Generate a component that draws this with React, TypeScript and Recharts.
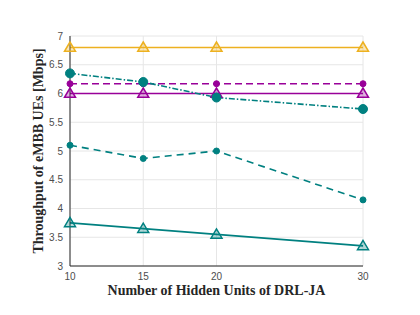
import { LineChart, Line, XAxis, YAxis, CartesianGrid, Label } from "recharts";

// Nombre d'unités cachées (axe X)
const hiddenUnits = [10, 15, 20, 30];

// Débits des UEs eMBB [Mbps]
const orangeSolid = [6.8, 6.8, 6.8, 6.8];
const purpleDashed = [6.17, 6.17, 6.17, 6.17];
const purpleSolid = [6.0, 6.0, 6.0, 6.0];
const tealDashDot = [6.35, 6.2, 5.93, 5.73];
const tealDashed = [5.1, 4.87, 5.0, 4.15];
const tealSolid = [3.75, 3.65, 3.55, 3.35];

const yTicks = [3, 3.5, 4, 4.5, 5, 5.5, 6, 6.5, 7];

const data = hiddenUnits.map((h, i) => ({
    h,
    a: orangeSolid[i],
    b: purpleDashed[i],
    c: purpleSolid[i],
    d: tealDashDot[i],
    e: tealDashed[i],
    f: tealSolid[i],
}));

const ORANGE = "#EDB120";
const PURPLE = "#990099";
const TEAL = "#008080";

const tickStyle = { fontSize: 10, fill: "#4d4d4d", fontFamily: "Liberation Sans" };

function triangle(color: string) {
    return (props: any) => {
        const { cx, cy, index } = props;
        const s = 5.5;
        return (
            <polygon
                key={`t-${index}`}
                points={`${cx},${cy - s} ${cx - s},${cy + s * 0.7} ${cx + s},${cy + s * 0.7}`}
                fill={color}
                fillOpacity={0.3}
                stroke={color}
                strokeWidth={1.5}
            />
        );
    };
}

function circle(color: string, r: number) {
    return (props: any) => {
        const { cx, cy, index } = props;
        return <circle key={`c-${index}`} cx={cx} cy={cy} r={r} fill={color} stroke={color} />;
    };
}

export default function App() {
    return (
        <div style={{ position: "absolute", left: 0, top: 0, background: "#fff" }}>
            <LineChart width={420} height={315} data={data} margin={{ top: 36, right: 57, bottom: 0, left: 0 }}>
                <CartesianGrid stroke="#e6e6e6" />
                <XAxis
                    dataKey="h"
                    type="number"
                    domain={[10, 30]}
                    ticks={hiddenUnits}
                    height={49}
                    stroke="#262626"
                    tickLine={false}
                    tick={tickStyle}
                    tickMargin={1}
                >
                    <Label
                        value="Number of Hidden Units of DRL-JA"
                        position="insideBottom"
                        offset={20}
                        style={{ fontSize: 14, fontWeight: "bold", fontFamily: "Liberation Serif", fill: "#262626" }}
                    />
                </XAxis>
                <XAxis xAxisId="top" orientation="top" dataKey="h" type="number" domain={[10, 30]} ticks={hiddenUnits}
                    height={0} mirror tick={false} stroke="#262626" tickSize={4} />
                <YAxis
                    type="number"
                    domain={[3, 7]}
                    ticks={yTicks}
                    width={70}
                    stroke="#262626"
                    tickLine={false}
                    tick={tickStyle}
                    tickMargin={1}
                >
                    <Label
                        value="Throughput of eMBB UEs [Mbps]"
                        angle={-90}
                        position="insideLeft"
                        offset={38}
                        style={{ textAnchor: "middle", fontSize: 14, fontWeight: "bold", fontFamily: "Liberation Serif", fill: "#262626" }}
                    />
                </YAxis>
                <YAxis yAxisId="right" orientation="right" type="number" domain={[3, 7]} ticks={yTicks}
                    width={0} mirror tick={false} stroke="#262626" tickSize={4} />
                <Line dataKey="a" stroke={ORANGE} strokeWidth={1.6} dot={triangle(ORANGE)} isAnimationActive={false} />
                <Line dataKey="b" stroke={PURPLE} strokeWidth={1.6} strokeDasharray="7 4" dot={circle(PURPLE, 3)} isAnimationActive={false} />
                <Line dataKey="c" stroke={PURPLE} strokeWidth={1.6} dot={triangle(PURPLE)} isAnimationActive={false} />
                <Line dataKey="d" stroke={TEAL} strokeWidth={1.6} strokeDasharray="6 2 1.5 2" dot={circle(TEAL, 4.5)} isAnimationActive={false} />
                <Line dataKey="e" stroke={TEAL} strokeWidth={1.6} strokeDasharray="7 5" dot={circle(TEAL, 3)} isAnimationActive={false} />
                <Line dataKey="f" stroke={TEAL} strokeWidth={1.6} dot={triangle(TEAL)} isAnimationActive={false} />
            </LineChart>
        </div>
    );
}
